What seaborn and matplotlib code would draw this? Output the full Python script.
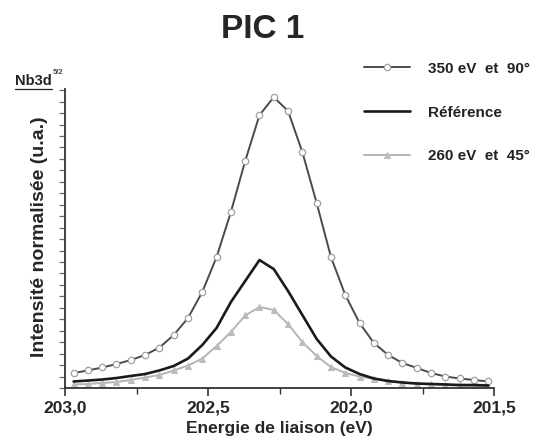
import numpy as np
import pandas as pd
import matplotlib
matplotlib.use("Agg")
import matplotlib.pyplot as plt
import seaborn as sns
from matplotlib.ticker import MultipleLocator, FixedLocator
from matplotlib.lines import Line2D

# --- data (binding energy in eV, normalised intensity in arbitrary units) ---
energy = [202.97, 202.92, 202.87, 202.82, 202.77, 202.72, 202.67, 202.62, 202.57, 202.52,
          202.47, 202.42, 202.37, 202.32, 202.27, 202.22, 202.17, 202.12, 202.07, 202.02,
          201.97, 201.92, 201.87, 201.82, 201.77, 201.72, 201.67, 201.62, 201.57, 201.52]

i_350_90 = [1.31, 1.53, 1.79, 2.09, 2.44, 2.88, 3.53, 4.62, 6.11, 8.38,
            11.43, 15.36, 19.81, 23.82, 25.39, 24.17, 20.59, 16.14, 11.43, 8.12,
            5.67, 3.93, 2.88, 2.18, 1.75, 1.31, 1.00, 0.83, 0.70, 0.57]

i_ref = [0.57, 0.65, 0.74, 0.87, 1.05, 1.22, 1.53, 1.92, 2.57, 3.75,
         5.24, 7.50, 9.34, 11.17, 10.38, 8.46, 6.37, 4.28, 2.75, 1.79,
         1.22, 0.83, 0.61, 0.48, 0.39, 0.35, 0.31, 0.26, 0.26, 0.22]

i_260_45 = [0.31, 0.35, 0.44, 0.52, 0.70, 0.92, 1.13, 1.53, 1.96, 2.57,
            3.66, 4.89, 6.33, 7.07, 6.81, 5.58, 4.01, 2.79, 1.83, 1.31,
            1.00, 0.79, 0.61, 0.48, 0.39, 0.31, 0.26, 0.22, 0.17, 0.17]

labels = ["350 eV  et  90°", "Référence", "260 eV  et  45°"]
x_ticks = [203.0, 202.5, 202.0, 201.5]
x_ticklabels = ["203,0", "202,5", "202,0", "201,5"]

title = "PIC 1"
xlabel = "Energie de liaison (eV)"
ylabel = "Intensité normalisée (u.a.)"
peak_label = "Nb3d"
peak_sup = "5/2"

# --- style ---
sns.set_style("ticks")
plt.rcParams["font.family"] = ["Liberation Sans", "DejaVu Sans"]
plt.rcParams["font.weight"] = "bold"

fig = plt.figure(figsize=(5.45, 4.48), dpi=100)
ax = fig.add_axes([65 / 545, 1 - 388 / 448, (494 - 65) / 545, (388 - 89) / 448])

df_350 = pd.DataFrame({"x": energy, "y": i_350_90})
df_ref = pd.DataFrame({"x": energy, "y": i_ref})
df_260 = pd.DataFrame({"x": energy, "y": i_260_45})

sns.lineplot(data=df_350, x="x", y="y", ax=ax, sort=False, color="#4a4a4a", lw=1.4,
             marker="o", markersize=4.6, markerfacecolor="white",
             markeredgecolor="#a0a0a0", markeredgewidth=0.9, label=labels[0], zorder=3)
sns.lineplot(data=df_ref, x="x", y="y", ax=ax, sort=False, color="#1a1a1a", lw=1.9,
             label=labels[1], zorder=4)
sns.lineplot(data=df_260, x="x", y="y", ax=ax, sort=False, color="#b4b4b4", lw=1.4,
             marker="^", markersize=4.2, markerfacecolor="#bcbcbc",
             markeredgecolor="#bcbcbc", label=labels[2], zorder=2)

ax.set_xlim(203.0, 201.5)
ax.set_ylim(0, 26.1)
ax.xaxis.set_major_locator(FixedLocator(x_ticks))
ax.set_xticklabels(x_ticklabels, fontsize=12.5, fontweight="bold")
ax.xaxis.set_minor_locator(FixedLocator([202.75, 202.25, 201.75]))
ax.yaxis.set_major_locator(MultipleLocator(1))
ax.set_yticklabels([])
ax.tick_params(axis="x", which="major", length=6, width=1.2, color="#333333", pad=3)
ax.tick_params(axis="x", which="minor", length=4, width=1.0, color="#333333")
ax.tick_params(axis="y", which="major", length=4, width=0.9, color="#666666")
for s in ["left", "bottom"]:
    ax.spines[s].set_linewidth(1.3)
    ax.spines[s].set_color("#333333")
sns.despine(ax=ax)

ax.set_xlabel(xlabel, fontsize=12.5, fontweight="bold", labelpad=4)
ax.set_ylabel(ylabel, fontsize=14, fontweight="bold")
ax.yaxis.set_label_coords(-0.040, 0.505)

fig.text(263 / 545, 1 - 30 / 448, title, ha="center", va="center",
         fontsize=24, fontweight="bold")

# Nb3d 5/2 label, underlined with a superscript
fig.text(15 / 545, 1 - 81 / 448, peak_label, ha="left", va="center",
         fontsize=10.5, fontweight="bold", color="#222222")
fig.text(53 / 545, 1 - 73 / 448, peak_sup, ha="left", va="center",
         fontsize=5.5, fontweight="bold", color="#444444")
fig.add_artist(Line2D([15 / 545, 52 / 545], [1 - 89 / 448, 1 - 89 / 448],
                      transform=fig.transFigure, color="#222222", lw=0.9))

leg = ax.legend(loc="upper left", bbox_to_anchor=(350 / 545, 1 - 48 / 448),
                bbox_transform=fig.transFigure, frameon=False, handlelength=3.0,
                labelspacing=1.95, handletextpad=1.2, prop={"size": 11, "weight": "bold"})
for t in leg.get_texts():
    t.set_color("#222222")

fig.savefig("out.png", dpi=100)
